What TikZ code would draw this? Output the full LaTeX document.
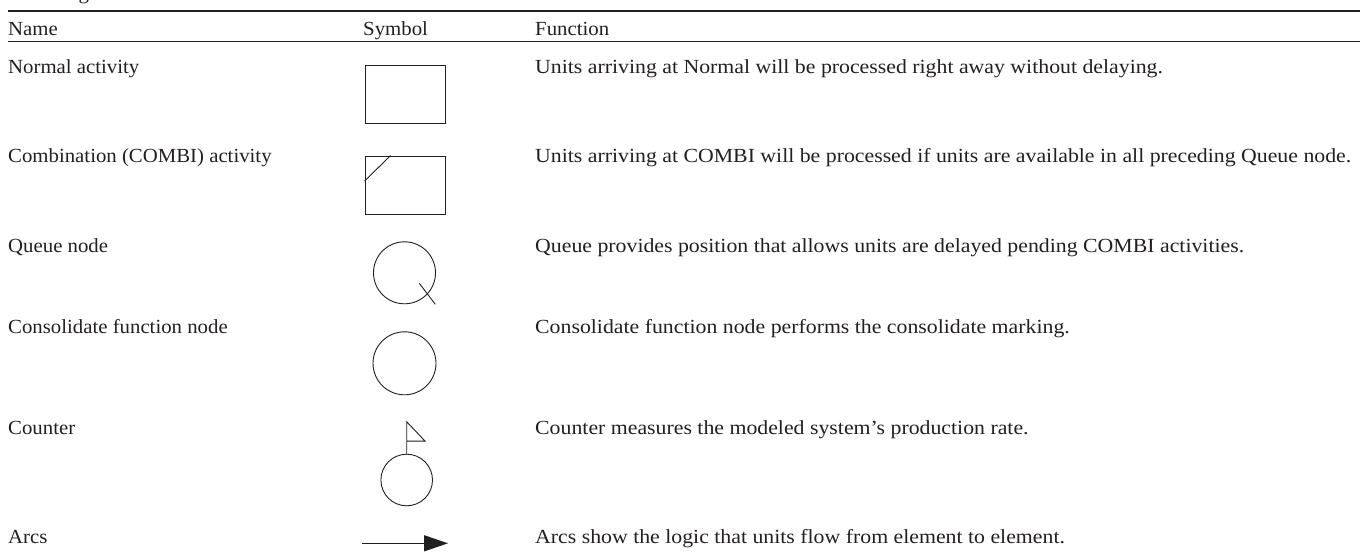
\documentclass[tikz,border=0pt]{standalone}
\usepackage{fontspec}
\setmainfont{Liberation Serif}
\newfontfamily\namefont[FakeStretch=1.04]{Liberation Serif}
\newfontfamily\funfont[FakeStretch=1.09]{Liberation Serif}
\usepackage{tikz}
\usetikzlibrary{positioning, arrows.meta, calc, shapes.geometric}
\definecolor{ink}{RGB}{35,31,32}

\begin{document}
\begin{tikzpicture}[x=1pt, y=-1pt,
  txt/.style={anchor=base west, inner sep=0pt, text=ink, font=\namefont\fontsize{20}{24}\selectfont},
  fun/.style={txt, font=\funfont\fontsize{20}{24}\selectfont},
  act/.style={draw=ink, line width=0.9pt, minimum width=80pt, minimum height=58pt, inner sep=0pt},
  nod/.style={draw=ink, circle, line width=0.9pt, inner sep=0pt}]
\useasboundingbox (0,0) rectangle (1360,554);
% caption, cut at the page top
\node[txt] (cap) at (8,-1) {Modeling elements used in CYCLONE};
\draw[ink, line width=1.8pt] (8,10.8) -- (1360,10.8);
\node[txt] (hname) at (8,35) {Name};
\node[txt] (hsym) at (363,35) {Symbol};
\node[txt] (hfun) at (535,35) {Function};
\draw[ink, line width=0.8pt] (8,41.5) -- (1360,41.5);
% rows
\node[txt] (n1) at (8,73) {Normal activity};
\node[act] (normal) at (405,94) {};
\node[fun] (f1) at (535,73) {Units arriving at Normal will be processed right away without delaying.};

\node[txt] (n2) at (8,162) {Combination (COMBI) activity};
\node[act] (combi) at (405,185) {};
\draw[ink, line width=0.9pt] ($(combi.north west)+(0,25.5)$) -- ($(combi.north west)+(26,0)$);
\node[fun] (f2) at (535,162) {Units arriving at COMBI will be processed if units are available in all preceding Queue node.};

\node[txt] (n3) at (8,252) {Queue node};
\node[nod, minimum size=62pt] (queue) at (404.5,272.8) {};
\draw[ink, line width=0.9pt] ($(queue.center)+(14.8,10.5)$) -- ($(queue.center)+(30.8,31.5)$);
\node[fun] (f3) at (535,252) {Queue provides position that allows units are delayed pending COMBI activities.};

\node[txt] (n4) at (8,333) {Consolidate function node};
\node[nod, minimum size=63pt] (cons) at (404.5,363.3) {};
\node[fun] (f4) at (535,333) {Consolidate function node performs the consolidate marking.};

\node[txt] (n5) at (8,434) {Counter};
\node[nod, minimum size=51.6pt] (counter) at (406.7,480) {};
\draw[ink, line width=0.9pt] (counter.north) -- ++(0,-32) coordinate (flag)
  -- ++(18.3,19.3) -- ++(-18.3,0);
\node[fun] (f5) at (535,434) {Counter measures the modeled system’s production rate.};

\node[txt] (n6) at (8,543) {Arcs};
\coordinate (arcA) at (362,543.3);
\coordinate (arcB) at (448,543.3);
\draw[ink, line width=1.4pt, -{Triangle[length=24pt, width=16pt]}] (arcA) -- (arcB);
\node[fun] (f6) at (535,543) {Arcs show the logic that units flow from element to element.};
\end{tikzpicture}
\end{document}
